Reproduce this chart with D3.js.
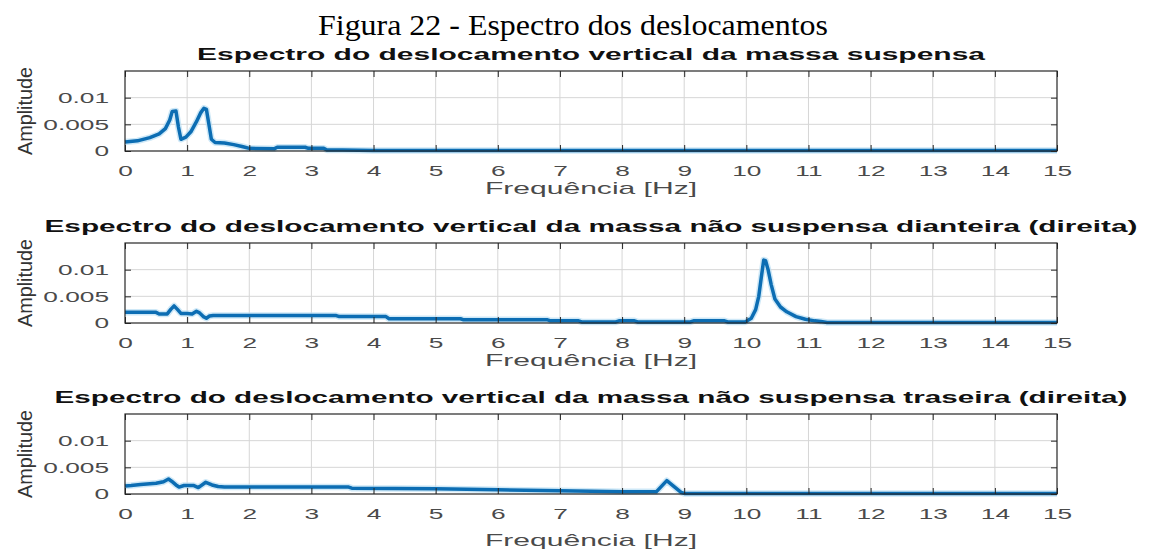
<!DOCTYPE html>
<html>
<head>
<meta charset="utf-8">
<script src="https://cdn.jsdelivr.net/npm/d3@7"></script>
<style>
  html, body { margin: 0; padding: 0; background: #ffffff; }
  svg { display: block; }
</style>
</head>
<body>
<svg id="fig" width="1149" height="554"></svg>
<script>
// Frequency axis ticks and amplitude ticks shared by the three spectra
const freqTicks = d3.range(0, 16);
const ampTicks = [0, 0.005, 0.01];

// Sprung mass (massa suspensa)
const freqSprung = [0, 0.2, 0.4, 0.55, 0.65, 0.72, 0.76, 0.82, 0.86, 0.9, 0.98, 1.06, 1.15, 1.22, 1.27, 1.31,
  1.35, 1.39, 1.45, 1.6, 1.75, 1.9, 2.0, 2.4, 2.45, 2.9, 2.95, 3.2, 3.25, 3.5, 4.0, 15];
const ampSprung = [0.0017, 0.0019, 0.0025, 0.0032, 0.0042, 0.0058, 0.0074, 0.0075, 0.0045, 0.0022, 0.0026,
  0.0036, 0.0055, 0.0072, 0.0080, 0.0078, 0.0050, 0.0022, 0.0016, 0.0015, 0.0012, 0.0008, 0.0005, 0.0004,
  0.0007, 0.0007, 0.0005, 0.0005, 0.0002, 0.0002, 0.0001, 0.0001];

// Front unsprung mass (right)
const freqFront = [0, 0.5, 0.55, 0.68, 0.74, 0.79, 0.84, 0.9, 1.0, 1.08, 1.15, 1.2, 1.26, 1.31, 1.36, 1.42,
  3.4, 3.45, 4.2, 4.25, 5.4, 5.45, 6.8, 6.85, 7.3, 7.35, 7.9, 7.95, 8.2, 8.25, 9.1, 9.15, 9.65, 9.7, 9.98,
  10.08, 10.15, 10.2, 10.24, 10.28, 10.31, 10.35, 10.4, 10.46, 10.55, 10.65, 10.8, 10.95, 11.1, 11.2, 11.3, 15];
const ampFront = [0.0020, 0.0020, 0.0017, 0.0017, 0.0026, 0.0032, 0.0026, 0.0018, 0.0018, 0.0017, 0.0022,
  0.0019, 0.0012, 0.0009, 0.0013, 0.0014, 0.0014, 0.0012, 0.0012, 0.0008, 0.0008, 0.0006, 0.0006, 0.0004,
  0.0004, 0.0002, 0.0002, 0.0004, 0.0004, 0.0002, 0.0002, 0.0004, 0.0004, 0.0002, 0.0002, 0.0009, 0.0025,
  0.0050, 0.0085, 0.0118, 0.0117, 0.0100, 0.0072, 0.0045, 0.0030, 0.0021, 0.0012, 0.0007, 0.0004, 0.0003,
  0.0001, 0.0001];

// Rear unsprung mass (right)
const freqRear = [0, 0.1, 0.25, 0.5, 0.62, 0.7, 0.75, 0.82, 0.87, 0.95, 1.1, 1.18, 1.3, 1.4, 1.5, 1.6, 3.6,
  3.65, 5.0, 6.0, 7.0, 8.0, 8.55, 8.72, 8.95, 9.0, 15];
const ampRear = [0.0015, 0.0016, 0.0018, 0.0020, 0.0023, 0.0028, 0.0024, 0.0017, 0.0013, 0.0016, 0.0016,
  0.0012, 0.0022, 0.0017, 0.0014, 0.0013, 0.0013, 0.0011, 0.0010, 0.0008, 0.0006, 0.0004, 0.0004, 0.0025,
  0.0003, 0.0001, 0.0001];

const figTitle = "Figura 22 - Espectro dos deslocamentos";
const panelTitles = [
  "Espectro do deslocamento vertical da massa suspensa",
  "Espectro do deslocamento vertical da massa não suspensa dianteira (direita)",
  "Espectro do deslocamento vertical da massa não suspensa traseira (direita)"
];
const xLabel = "Frequência [Hz]";
const yLabel = "Amplitude";

const series = [
  { f: freqSprung, a: ampSprung },
  { f: freqFront, a: ampFront },
  { f: freqRear, a: ampRear }
];

// Layout
const plotLeft = 125, plotRight = 1057, plotH = 80;
const panelTops = [71, 243, 414];
const titleWidths = [788, 1093, 1073];
const xLabelOffsets = [43, 43, 52];
const hStretch = 1.75;
const sans = "'Liberation Sans', Arial, Helvetica, sans-serif";
const tickColor = "#4a4a4a";

const svg = d3.select("#fig");
const x = d3.scaleLinear().domain([0, 15]).range([plotLeft, plotRight]);
const cx = (plotLeft + plotRight) / 2;

// Figure caption
svg.append("text")
  .attr("x", 573).attr("y", 35)
  .attr("text-anchor", "middle")
  .attr("font-family", "'Liberation Serif', 'Times New Roman', serif")
  .attr("font-size", 30)
  .attr("fill", "#000")
  .attr("textLength", 510)
  .attr("lengthAdjust", "spacingAndGlyphs")
  .text(figTitle);

function stretch(sel, k) {
  sel.each(function () {
    const w = this.getComputedTextLength();
    d3.select(this).attr("textLength", w * k).attr("lengthAdjust", "spacingAndGlyphs");
  });
}

series.forEach((s, i) => {
  const top = panelTops[i];
  const bottom = top + plotH;
  const y = d3.scaleLinear().domain([0, 0.015]).range([bottom, top]);
  const g = svg.append("g");

  // grid
  g.append("g").selectAll("line").data(freqTicks.slice(1, -1)).join("line")
    .attr("x1", d => x(d)).attr("x2", d => x(d))
    .attr("y1", top).attr("y2", bottom)
    .attr("stroke", "#d6d6d6").attr("stroke-width", 1);
  g.append("g").selectAll("line").data(ampTicks.slice(1)).join("line")
    .attr("x1", plotLeft).attr("x2", plotRight)
    .attr("y1", d => y(d)).attr("y2", d => y(d))
    .attr("stroke", "#d6d6d6").attr("stroke-width", 1);

  // spectrum line
  const pts = s.f.map((f, j) => [f, s.a[j]]);
  const line = d3.line().x(d => x(d[0])).y(d => y(d[1]));
  g.append("path").datum(pts)
    .attr("d", line).attr("fill", "none")
    .attr("stroke", "#b9def4").attr("stroke-width", 6.5).attr("stroke-opacity", 0.7)
    .attr("stroke-linejoin", "round");
  g.append("path").datum(pts)
    .attr("d", line).attr("fill", "none")
    .attr("stroke", "#0c6db3").attr("stroke-width", 3.5)
    .attr("stroke-linejoin", "round");

  // axes with inward ticks on all four sides
  const axB = g.append("g").attr("transform", `translate(0,${bottom})`)
    .call(d3.axisBottom(x).tickValues(freqTicks).tickSize(-6).tickPadding(14).tickFormat(d3.format("d")));
  const axT = g.append("g").attr("transform", `translate(0,${top})`)
    .call(d3.axisTop(x).tickValues(freqTicks).tickSize(-6).tickFormat(""));
  const axL = g.append("g").attr("transform", `translate(${plotLeft},0)`)
    .call(d3.axisLeft(y).tickValues(ampTicks).tickSize(-6).tickPadding(16).tickFormat(d => String(d)));
  const axR = g.append("g").attr("transform", `translate(${plotRight},0)`)
    .call(d3.axisRight(y).tickValues(ampTicks).tickSize(-6).tickFormat(""));
  [axB, axT, axL, axR].forEach(a => {
    a.select(".domain").remove();
    a.selectAll(".tick line").attr("stroke", "#262626");
    a.selectAll("text").attr("font-family", sans).attr("font-size", 15).attr("fill", tickColor);
  });
  stretch(axB.selectAll("text"), hStretch);
  stretch(axL.selectAll("text"), hStretch);

  // box
  g.append("rect")
    .attr("x", plotLeft).attr("y", top)
    .attr("width", plotRight - plotLeft).attr("height", plotH)
    .attr("fill", "none").attr("stroke", "#262626").attr("stroke-width", 1.2);

  // panel title
  g.append("text")
    .attr("x", cx).attr("y", top - 11)
    .attr("text-anchor", "middle")
    .attr("font-family", sans).attr("font-weight", "bold").attr("font-size", 17)
    .attr("fill", "#111")
    .attr("textLength", titleWidths[i]).attr("lengthAdjust", "spacingAndGlyphs")
    .text(panelTitles[i]);

  // axis labels
  g.append("text")
    .attr("x", cx).attr("y", bottom + xLabelOffsets[i])
    .attr("text-anchor", "middle")
    .attr("font-family", sans).attr("font-size", 17)
    .attr("fill", tickColor)
    .attr("textLength", 212).attr("lengthAdjust", "spacingAndGlyphs")
    .text(xLabel);
  g.append("text")
    .attr("transform", `translate(32,${(top + bottom) / 2}) rotate(-90)`)
    .attr("text-anchor", "middle")
    .attr("font-family", sans).attr("font-size", 20)
    .attr("fill", "#333")
    .attr("textLength", 88).attr("lengthAdjust", "spacingAndGlyphs")
    .text(yLabel);
});
</script>
</body>
</html>
